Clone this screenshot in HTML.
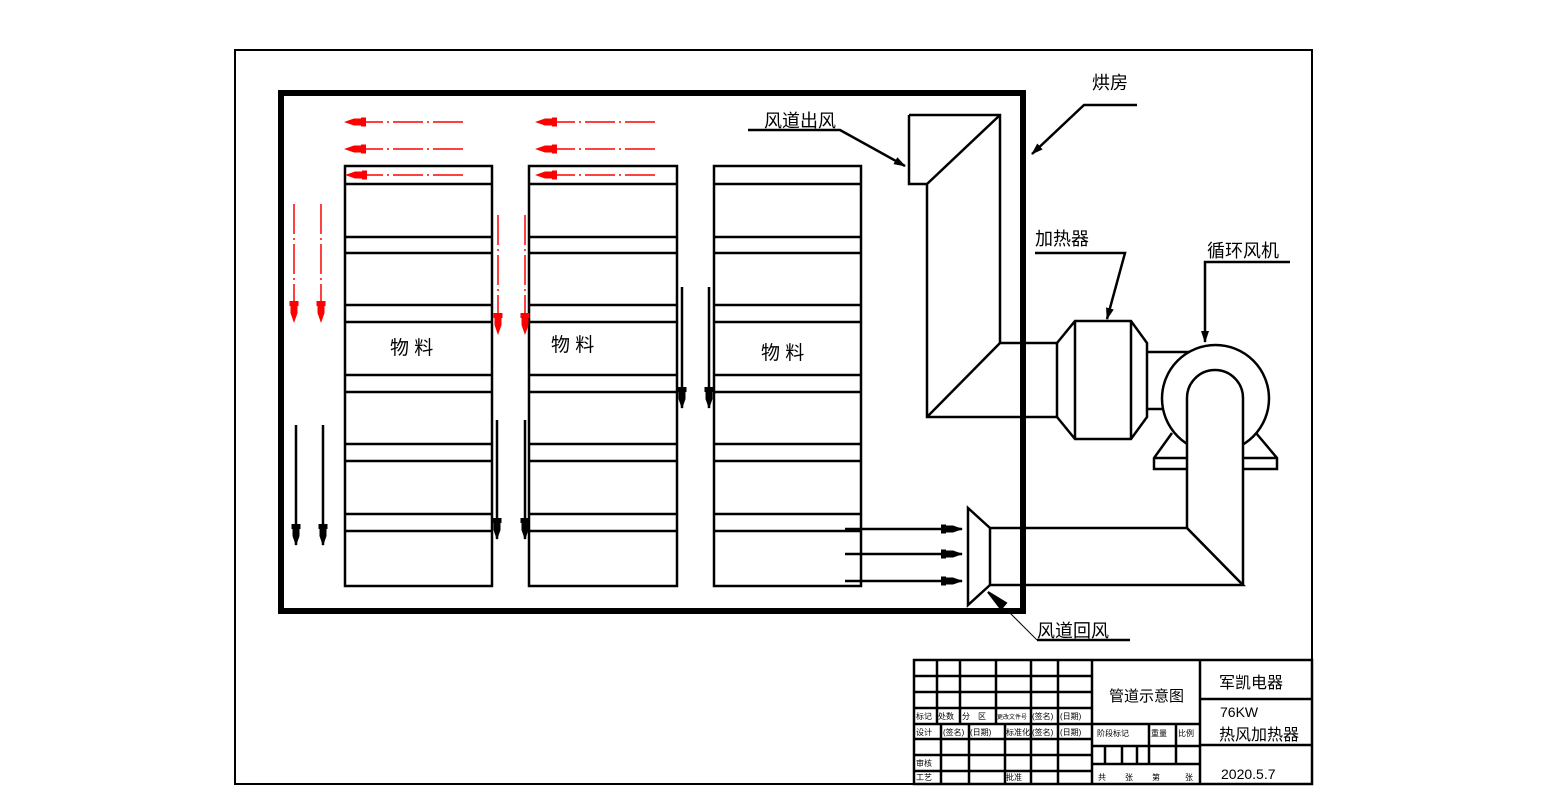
<!DOCTYPE html>
<html><head><meta charset="utf-8"><style>
html,body{margin:0;padding:0;background:#fff;}
svg{display:block;}
text{font-family:"Liberation Sans","Noto Sans CJK SC",sans-serif;fill:#000;}
</style></head><body>
<svg width="1562" height="808" viewBox="0 0 1562 808" xmlns="http://www.w3.org/2000/svg">
<defs>
<marker id="ar" markerWidth="12" markerHeight="10" refX="11" refY="5" orient="auto" markerUnits="userSpaceOnUse"><path d="M0,1 L12,5 L0,9 Z" fill="#000"/></marker>
<marker id="rr" markerWidth="22" markerHeight="10" refX="21" refY="5" orient="auto" markerUnits="userSpaceOnUse"><path d="M0,0.5 L5,0.5 L5,1.5 L12,1.5 L22,5 L12,8.5 L5,8.5 L5,9.5 L0,9.5 Z" fill="#f00"/></marker>
<marker id="bk" markerWidth="22" markerHeight="10" refX="21" refY="5" orient="auto" markerUnits="userSpaceOnUse"><path d="M0,0.5 L5,0.5 L5,1.5 L12,1.5 L22,5 L12,8.5 L5,8.5 L5,9.5 L0,9.5 Z" fill="#000"/></marker>
</defs>
<rect x="235" y="50" width="1077" height="734" fill="none" stroke="#000" stroke-width="2"/>
<rect x="281" y="93" width="742" height="518" fill="none" stroke="#000" stroke-width="6"/>
<g fill="none" stroke="#000" stroke-width="2.5">
<rect x="345" y="166" width="147" height="420"/>
<rect x="529" y="166" width="148" height="420"/>
<rect x="714" y="166" width="147" height="420"/>
<path d="M345 184H492M345 237H492M345 253H492M345 305H492M345 322H492M345 375H492M345 392H492M345 444H492M345 461H492M345 514H492M345 531H492"/>
<path d="M529 184H677M529 237H677M529 253H677M529 305H677M529 322H677M529 375H677M529 392H677M529 444H677M529 461H677M529 514H677M529 531H677"/>
<path d="M714 184H861M714 237H861M714 253H861M714 305H861M714 322H861M714 375H861M714 392H861M714 444H861M714 461H861M714 514H861M714 531H861"/>
</g>
<g font-size="19">
<text x="390" y="354">物 料</text>
<text x="551" y="351">物 料</text>
<text x="761" y="359">物 料</text>
</g>
<g stroke="#f00" stroke-width="1.5" stroke-dasharray="30,4,2,4" marker-end="url(#rr)">
<line x1="463" y1="122" x2="345" y2="122"/><line x1="463" y1="149" x2="345" y2="149"/><line x1="463" y1="175" x2="346" y2="175"/>
<line x1="655" y1="122" x2="536" y2="122"/><line x1="655" y1="149" x2="536" y2="149"/><line x1="655" y1="175" x2="536" y2="175"/>
<line x1="294" y1="204" x2="294" y2="322"/><line x1="321" y1="204" x2="321" y2="322"/>
<line x1="498" y1="215" x2="498" y2="334"/><line x1="525" y1="215" x2="525" y2="334"/>
</g>
<g stroke="#000" stroke-width="2.5" marker-end="url(#bk)">
<line x1="296" y1="425" x2="296" y2="545"/><line x1="323" y1="425" x2="323" y2="545"/>
<line x1="497" y1="420" x2="497" y2="539"/><line x1="525" y1="420" x2="525" y2="539"/>
<line x1="682" y1="287" x2="682" y2="408"/><line x1="709" y1="287" x2="709" y2="408"/>
<line x1="845" y1="529" x2="962" y2="529"/><line x1="845" y1="554" x2="962" y2="554"/><line x1="845" y1="581" x2="962" y2="581"/>
</g>
<g fill="none" stroke="#000" stroke-width="2.5">
<path d="M909 115H1000V343M909 115V184H927L1000 115M927 184V417H1057M927 417L1000 343H1057V417"/>
<path d="M1057 343L1075 321H1131L1147 343V417L1131 439H1075L1057 417M1075 321V439M1131 321V439"/>
<path d="M1147 352H1200M1147 409H1165"/>
<path d="M968 508L990 528V585L968 605Z"/>
<path d="M990 528H1187L1243 585H990"/>
<path d="M1172 433L1154 458V469H1187M1256 433L1277 458V469H1243M1154 458H1187M1243 458H1277"/>
</g>
<circle cx="1215.5" cy="398.5" r="53.5" fill="#fff" stroke="#000" stroke-width="2.5"/>
<path d="M1187 528V398A28 28 0 0 1 1243 398V585" fill="#fff" stroke="#000" stroke-width="2.5"/>
<line x1="1187" y1="528" x2="1243" y2="585" stroke="#000" stroke-width="2.5"/>
<g fill="none" stroke="#000" stroke-width="2.5">
<path d="M1137 105H1084L1032 154" marker-end="url(#ar)"/>
<path d="M748 130H840L905 166" marker-end="url(#ar)"/>
<path d="M1035 253H1125L1107 319" marker-end="url(#ar)"/>
<path d="M1290 262H1205V342" marker-end="url(#ar)"/>
<path d="M1130 640H1037"/>
</g>
<path d="M1037 640L1008 611" stroke="#000" stroke-width="1" fill="none"/>
<path d="M1006 603L988 592L1001 609Z" fill="#000" stroke="#000" stroke-width="2"/>
<g font-size="18">
<text x="1092" y="89">烘房</text>
<text x="764" y="127">风道出风</text>
<text x="1035" y="245">加热器</text>
<text x="1207" y="257">循环风机</text>
<text x="1037" y="637">风道回风</text>
</g>
<g fill="none" stroke="#000" stroke-width="2.5">
<rect x="914" y="660" width="398" height="124"/>
<path d="M914 676H1092M914 692H1092M914 708H1092M914 724H1200M914 739H1092M914 755H1092M914 771H1092"/>
<path d="M937 660V724M960 660V724M996 660V724M1031 660V784M1058 660V784M1092 660V784"/>
<path d="M941 724V784M969 724V784M1005 724V784"/>
<path d="M1200 660V784M1200 699H1312M1200 745H1312"/>
<path d="M1092 746H1200M1092 764H1200M1149 724V764M1176 724V764M1105 746V764M1122 746V764M1137 746V764"/>
</g>
<g font-size="8">
<text x="916" y="719">标记</text><text x="938" y="719">处数</text><text x="962" y="719">分　区</text><text x="997" y="719" font-size="6">更改文件号</text><text x="1032" y="719">(签名)</text><text x="1060" y="719">(日期)</text>
<text x="916" y="735">设计</text><text x="943" y="735">(签名)</text><text x="970" y="735">(日期)</text><text x="1006" y="735">标准化</text><text x="1032" y="735">(签名)</text><text x="1060" y="735">(日期)</text>
<text x="916" y="766">审核</text><text x="916" y="780">工艺</text><text x="1006" y="780">批准</text>
<text x="1097" y="736">阶段标记</text><text x="1151" y="736">重量</text><text x="1178" y="736">比例</text>
<text x="1098" y="780">共</text><text x="1125" y="780">张</text><text x="1152" y="780">第</text><text x="1185" y="780">张</text>
</g>
<text x="1109" y="701" font-size="15">管道示意图</text>
<text x="1219" y="688" font-size="16">军凯电器</text>
<text x="1220" y="717" font-size="14" font-family="Liberation Mono">76KW</text>
<text x="1219" y="740" font-size="16">热风加热器</text>
<text x="1221" y="779" font-size="14" font-family="Liberation Mono">2020.5.7</text>
</svg>
</body></html>
